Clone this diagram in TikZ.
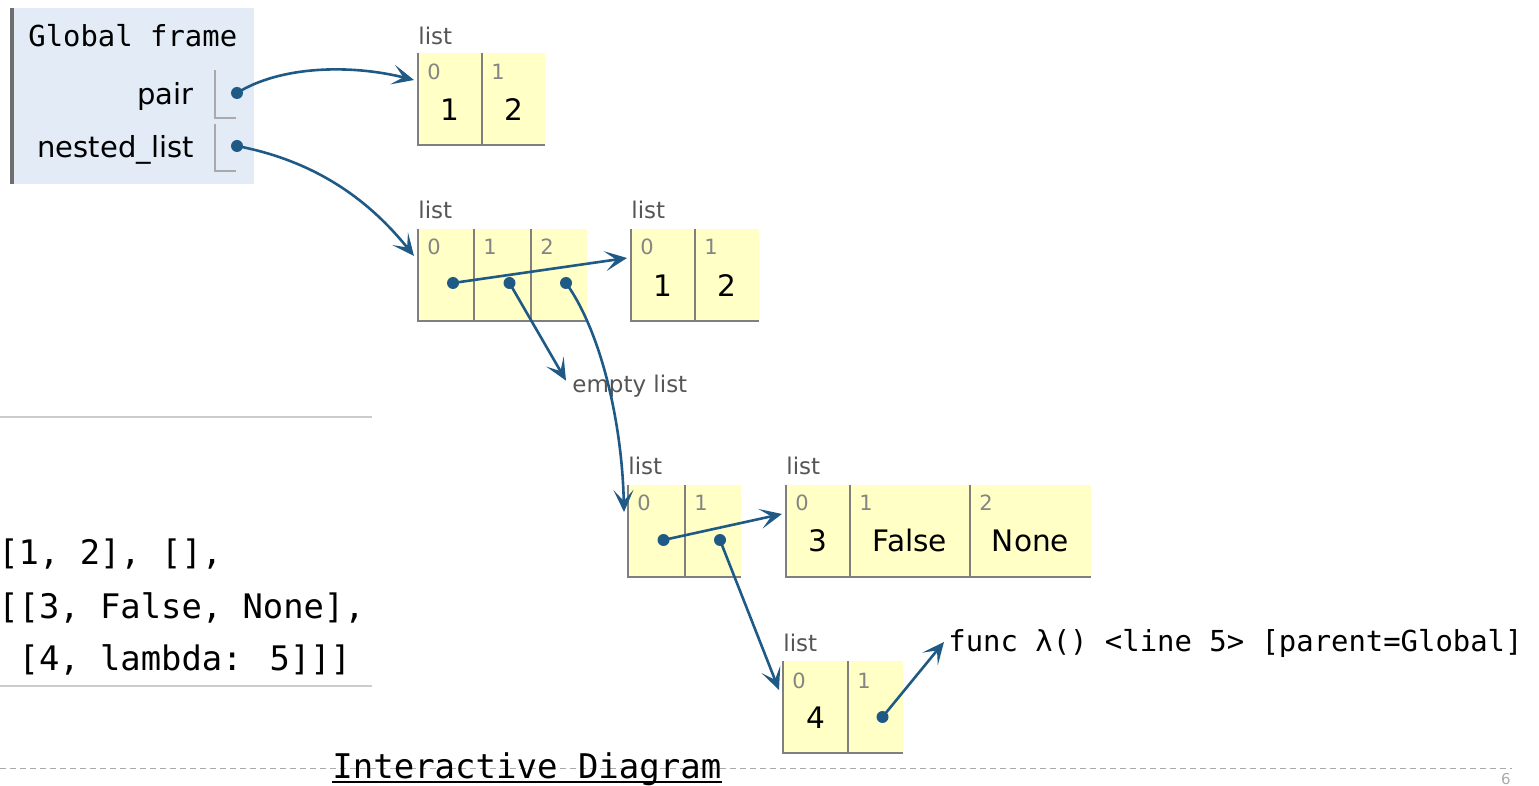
\documentclass[tikz,border=0pt]{standalone}
\usepackage{fontspec}
\setmainfont{DejaVu Sans}
\newfontfamily\monofont{DejaVu Sans Mono}
\usetikzlibrary{arrows.meta,calc}
\definecolor{listbg}{HTML}{FFFFC6}
\definecolor{framebg}{HTML}{E2EBF6}
\definecolor{framebar}{HTML}{6E6E6E}
\definecolor{arrowc}{HTML}{1F5A87}
\definecolor{cellc}{HTML}{7F7F7F}
\definecolor{idxgray}{HTML}{858585}
\definecolor{lblgray}{HTML}{555555}
\definecolor{sepgray}{HTML}{CCCCCC}
\definecolor{boxgray}{HTML}{AAAAAA}
\newcommand\lcell[4]{%
  \node[cellbox, minimum width=#4*0.5pt] (#1) at (#2,#3) {};
  \draw[cellline] (#1.north west) -- (#1.south west) -- (#1.south east);}
\begin{document}
\begin{tikzpicture}[x=0.5pt,y=-0.5pt,
  cellbox/.style={rectangle, fill=listbg, inner sep=0pt, outer sep=0pt, anchor=north west, minimum height=46pt},
  cellline/.style={draw=cellc, line width=0.6pt},
  idx/.style={anchor=base west, inner sep=0pt, text=idxgray, font=\fontsize{10.5}{12}\selectfont},
  val/.style={anchor=base, inner sep=0pt, font=\fontsize{14.8}{17}\selectfont},
  lbl/.style={anchor=base west, inner sep=0pt, text=lblgray, font=\fontsize{11.5}{13}\selectfont},
  ptr/.style={draw=arrowc, line width=1.3pt, -{Stealth[length=11pt,width=10pt,inset=5.5pt]}},
  dot/.style={circle, fill=arrowc, inner sep=0pt, minimum size=6pt},
  mono/.style={inner sep=0pt, font=\monofont\fontsize{14.45}{17}\selectfont},
  code/.style={anchor=base west, inner sep=0pt, font=\monofont\fontsize{16.9}{20}\selectfont},
  fvar/.style={anchor=base east, inner sep=0pt, font=\fontsize{14.5}{17}\selectfont},
  vbox/.style={draw=boxgray, line width=0.6pt}]
\useasboundingbox (0,0) rectangle (1539,786);

% ---------- global frame ----------
\fill[framebg] (10,8) rectangle (254,184);
\fill[framebar] (10,8) rectangle (14,184);
\node[mono, anchor=base west] (gf) at (28,47) {Global frame};
\node[fvar] (vpair) at (194,105) {pair};
\node[fvar] (vnest) at (194,158) {nested\_list};
\draw[vbox] (215,70) -- (215,118) -- (236,118);
\draw[vbox] (215,124) -- (215,171) -- (236,171);
\node[dot] (dpair) at (237,93) {};
\node[dot] (dnest) at (237,146) {};

% ---------- list A : pair ----------
\node[lbl] (lA) at (418,45) {list};
\lcell{A0}{418}{53}{64}
\lcell{A1}{482}{53}{63}
\node[idx] at ($(A0.north west)+(9,27)$) {0};
\node[idx] at ($(A1.north west)+(9,27)$) {1};
\node[val] at ($(A0.north)+(0,68)$) {1};
\node[val] at ($(A1.north)+(0,68)$) {2};

% ---------- list B : nested_list ----------
\node[lbl] (lB) at (418,219) {list};
\lcell{B0}{418}{229}{56}
\lcell{B1}{474}{229}{57}
\lcell{B2}{531}{229}{56}
\node[idx] at ($(B0.north west)+(9,26)$) {0};
\node[idx] at ($(B1.north west)+(9,26)$) {1};
\node[idx] at ($(B2.north west)+(9,26)$) {2};
\node[dot] (dB0) at ($(B0.north)+(7,54)$) {};
\node[dot] (dB1) at ($(B1.north)+(7,54)$) {};
\node[dot] (dB2) at ($(B2.north)+(7,54)$) {};

% ---------- list C : [1, 2] ----------
\node[lbl] (lC) at (631,219) {list};
\lcell{C0}{631}{229}{64}
\lcell{C1}{695}{229}{64}
\node[idx] at ($(C0.north west)+(9,26)$) {0};
\node[idx] at ($(C1.north west)+(9,26)$) {1};
\node[val] at ($(C0.north)+(0,68)$) {1};
\node[val] at ($(C1.north)+(0,68)$) {2};

% ---------- empty list ----------
\node[lbl] (empty) at (572,393) {empty list};

% ---------- list D ----------
\node[lbl] (lD) at (628,475) {list};
\lcell{D0}{628}{485}{57}
\lcell{D1}{685}{485}{56}
\node[idx] at ($(D0.north west)+(9,26)$) {0};
\node[idx] at ($(D1.north west)+(9,26)$) {1};
\node[dot] (dD0) at ($(D0.north)+(7,55)$) {};
\node[dot] (dD1) at ($(D1.north)+(7,55)$) {};

% ---------- list E ----------
\node[lbl] (lE) at (786,475) {list};
\lcell{E0}{786}{485}{64}
\lcell{E1}{850}{485}{120}
\lcell{E2}{970}{485}{121}
\node[idx] at ($(E0.north west)+(9,26)$) {0};
\node[idx] at ($(E1.north west)+(9,26)$) {1};
\node[idx] at ($(E2.north west)+(9,26)$) {2};
\node[val] at ($(E0.north)+(0,67)$) {3};
\node[val] at ($(E1.north)+(0,67)$) {False};
\node[val] at ($(E2.north)+(0,67)$) {None};

% ---------- list F ----------
\node[lbl] (lF) at (783,652) {list};
\lcell{F0}{783}{661}{65}
\lcell{F1}{848}{661}{55}
\node[idx] at ($(F0.north west)+(9,27)$) {0};
\node[idx] at ($(F1.north west)+(9,27)$) {1};
\node[val] at ($(F0.north)+(0,67)$) {4};
\node[dot] (dF1) at ($(F1.north)+(7,56)$) {};

% ---------- function ----------
\node[mono, anchor=base west] (func) at (948,652) {func λ() <line 5> [parent=Global]};

% ---------- pointers ----------
\draw[ptr] (dpair.center) .. controls (280,66) and (350,64) .. ($(A0.west)+(-4,-19)$);
\draw[ptr] (dnest.center) .. controls (310,160) and (365,195) .. ($(B0.west)+(-4,-19)$);
\draw[ptr] (dB0.center) -- ($(C0.west)+(-4,-17)$);
\draw[ptr] (dB1.center) -- ($(empty.west)+(-6,-6)$);
\draw[ptr] (dB2.center) .. controls (600,330) and (622,420) .. ($(D0.west)+(-4,-19)$);
\draw[ptr] (dD0.center) -- ($(E0.west)+(-4,-17)$);
\draw[ptr] (dD1.center) -- ($(F0.west)+(-4,-17)$);
\draw[ptr] (dF1.center) -- ($(func.west)+(-4,-2)$);

% ---------- code panel ----------
\draw[sepgray, line width=0.8pt] (0,417) -- (372,417);
\draw[sepgray, line width=0.8pt] (0,686) -- (372,686);
\node[code] (c1) at (-2,565) {[1, 2], [],};
\node[code] (c2) at (-2,618) {[[3, False, None],};
\node[code] (c3) at (-2,670) {\phantom{[}[4, lambda: 5]]]};

% ---------- footer ----------
\draw[boxgray, line width=0.5pt, dash pattern=on 3pt off 2pt] (0,768) -- (1512,768);
\node[anchor=base west, inner sep=0pt, font=\monofont\fontsize{17}{20}\selectfont] (link) at (332,778) {Interactive Diagram};
\draw[black, line width=0.9pt] ($(link.base west)+(0,4)$) -- ($(link.base east)+(0,4)$);
\node[anchor=base, inner sep=0pt, text=boxgray, font=\fontsize{7.5}{9}\selectfont] (pg) at (1506,784) {6};
\end{tikzpicture}
\end{document}
